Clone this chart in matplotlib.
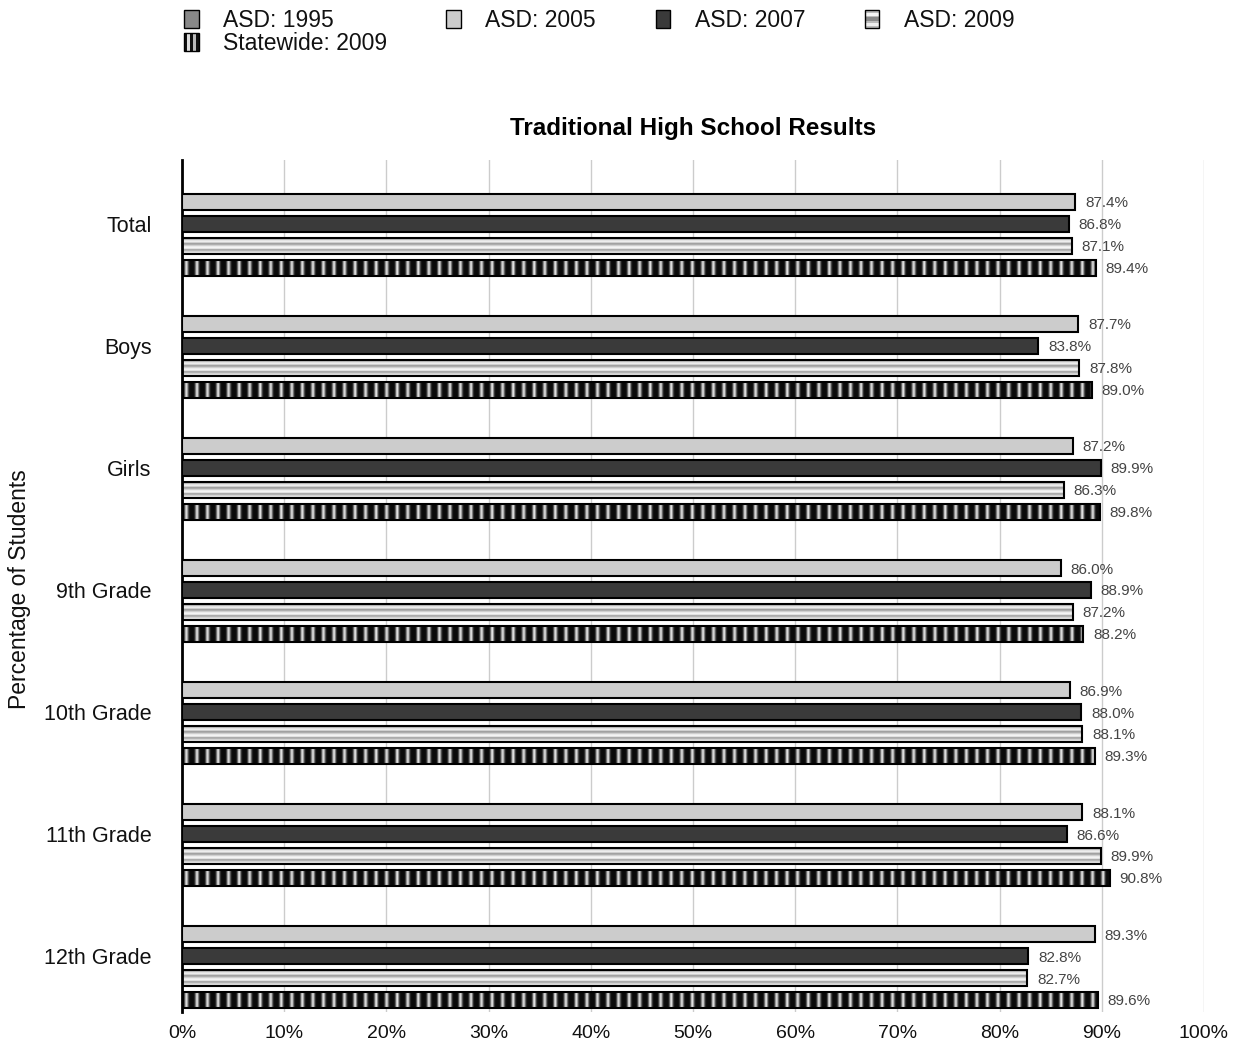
import numpy as np
import matplotlib
matplotlib.use('Agg')
import matplotlib.pyplot as plt
from matplotlib.patches import Rectangle
from matplotlib.legend_handler import HandlerBase

plt.rcParams['font.family'] = ['Liberation Sans', 'DejaVu Sans']

groups = ['Total', 'Boys', 'Girls', '9th Grade', '10th Grade', '11th Grade', '12th Grade']
series = ['ASD: 1995', 'ASD: 2005', 'ASD: 2007', 'ASD: 2009', 'Statewide: 2009']
asd_1995 = [np.nan] * 7   # no values shown in chart
asd_2005 = [87.4, 87.7, 87.2, 86.0, 86.9, 88.1, 89.3]
asd_2007 = [86.8, 83.8, 89.9, 88.9, 88.0, 86.6, 82.8]
asd_2009 = [87.1, 87.8, 86.3, 87.2, 88.1, 89.9, 82.7]
state_2009 = [89.4, 89.0, 89.8, 88.2, 89.3, 90.8, 89.6]
x_ticks = [0, 10, 20, 30, 40, 50, 60, 70, 80, 90, 100]

# textures for the striped bars
h_profile = np.array([0.75, 0.6, 0.85, 0.96, 0.82, 0.6, 0.72, 0.9, 0.97, 0.88, 0.62, 0.75, 0.92, 0.8])
v_period = np.array([0.04, 0.08, 0.35, 0.75, 0.88, 0.55, 0.2, 0.06, 0.04, 0.04])

fig = plt.figure(figsize=(12.38, 10.49), dpi=100)
ax = fig.add_axes([0.147, 0.035, 0.8255, 0.8125])

step = 0.18
bh = 0.132
base = np.arange(len(groups))

b05 = ax.barh(base - step, asd_2005, height=bh, color='#cccccc', edgecolor='black', lw=1.5, zorder=3)
b07 = ax.barh(base, asd_2007, height=bh, color='#3a3a3a', edgecolor='black', lw=1.5, zorder=3)
b09 = ax.barh(base + step, asd_2009, height=bh, color='none', edgecolor='black', lw=1.5, zorder=3)
bst = ax.barh(base + 2 * step, state_2009, height=bh, color='none', edgecolor='black', lw=1.5, zorder=3)

h_img = np.tile(h_profile[:, None], (1, 4))
n_per = 97
v_img = np.tile(np.tile(v_period, n_per)[None, :], (4, 1))
for bars, img in [(b09, h_img), (bst, v_img)]:
    for p in bars:
        y0 = p.get_y()
        y1 = y0 + p.get_height()
        im = ax.imshow(img, extent=(0, 100, y1, y0), aspect='auto', cmap='gray',
                       vmin=0, vmax=1, interpolation='bilinear', zorder=2)
        im.set_clip_path(p)

for bars, vals in [(b05, asd_2005), (b07, asd_2007), (b09, asd_2009), (bst, state_2009)]:
    for p, v in zip(bars, vals):
        ax.annotate('%.1f%%' % v, (v, p.get_y() + p.get_height() / 2), xytext=(7, -1),
                    textcoords='offset points', va='center', ha='left',
                    fontsize=11, color='#444444')

ax.set_xlim(0, 100)
ax.set_ylim(len(groups) - 1 + 0.46, -0.525)
ax.set_xticks(x_ticks)
ax.set_xticklabels(['%d%%' % t for t in x_ticks])
ax.set_yticks(base)
ax.set_yticklabels(groups)
ax.tick_params(axis='both', length=0, labelsize=14, labelcolor='#111111')
ax.tick_params(axis='y', pad=22, labelsize=15.5)
ax.tick_params(axis='x', pad=9)
ax.xaxis.grid(True, color='#cccccc', lw=1)
ax.set_axisbelow(True)
for s in ['top', 'right', 'bottom']:
    ax.spines[s].set_visible(False)
ax.spines['left'].set_linewidth(2)

ax.set_title('Traditional High School Results', fontsize=17.5, fontweight='bold', pad=18)
fig.text(0.016, 0.438, 'Percentage of Students', rotation=90, fontsize=16.5,
         va='center', ha='center', color='#111111')


class StripeHandler(HandlerBase):
    def __init__(self, facecolor, stripes, vertical):
        super().__init__()
        self.fc = facecolor
        self.stripes = stripes
        self.vertical = vertical

    def create_artists(self, legend, orig_handle, xdescent, ydescent, width, height, fontsize, trans):
        x0, y0 = -xdescent, -ydescent
        arts = [Rectangle((x0, y0), width, height, fc=self.fc, ec='none', transform=trans)]
        for pos, w, c in self.stripes:
            if self.vertical:
                r = Rectangle((x0 + pos * width, y0), w * width, height, fc=c, ec='none', transform=trans)
            else:
                r = Rectangle((x0, y0 + pos * height), width, w * height, fc=c, ec='none', transform=trans)
            arts.append(r)
        arts.append(Rectangle((x0, y0), width, height, fc='none', ec='black', lw=1, transform=trans))
        return arts


h1995 = Rectangle((0, 0), 1, 1, fc='#888888', ec='black', lw=1)
h2005 = Rectangle((0, 0), 1, 1, fc='#cccccc', ec='black', lw=1)
h2007 = Rectangle((0, 0), 1, 1, fc='#3a3a3a', ec='black', lw=1)
h2009 = Rectangle((0, 0), 1, 1)
hst = Rectangle((0, 0), 1, 1)
handler_map = {
    h2009: StripeHandler('#bbbbbb', [(0.15, 0.15, '#eeeeee'), (0.4, 0.2, '#888888'), (0.7, 0.15, '#f5f5f5')], False),
    hst: StripeHandler('#111111', [(0.25, 0.15, '#dddddd'), (0.65, 0.15, '#bbbbbb')], True),
}
fig.legend([h1995, hst, h2005, h2007, h2009],
           ['ASD: 1995', 'Statewide: 2009', 'ASD: 2005', 'ASD: 2007', 'ASD: 2009'],
           handler_map=handler_map, ncol=4, loc='upper left', bbox_to_anchor=(0.141, 1.0),
           frameon=False, fontsize=16.5, handlelength=0.65, handleheight=0.85,
           handletextpad=1.05, columnspacing=2.6, labelspacing=0.0, borderaxespad=0,
           labelcolor='#111111')

fig.savefig('out.png', dpi=100)
